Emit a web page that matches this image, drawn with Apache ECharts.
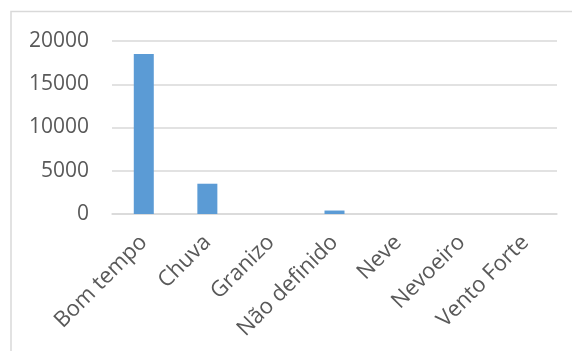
<!DOCTYPE html>
<html>
<head>
<meta charset="utf-8">
<script src="https://cdn.jsdelivr.net/npm/echarts@6/dist/echarts.min.js"></script>
<style>
  html, body { margin: 0; padding: 0; background: #ffffff; }
  #chart { width: 572px; height: 351px; }
</style>
</head>
<body>
<div id="chart"></div>
<script>
// Weather condition counts
const categories = ['Bom tempo', 'Chuva', 'Granizo', 'Não definido', 'Neve', 'Nevoeiro', 'Vento Forte'];
const counts = [18500, 3500, 0, 400, 0, 0, 0];
const yTicks = { min: 0, max: 20000, interval: 5000 };

const chart = echarts.init(document.getElementById('chart'), null, { renderer: 'canvas' });

chart.setOption({
  animation: false,
  backgroundColor: '#ffffff',
  textStyle: { fontFamily: 'Open Sans' },
  graphic: [{
    type: 'rect',
    silent: true,
    shape: { x: 11, y: 11.5, width: 700, height: 500 },
    style: { fill: 'none', stroke: '#d9d9d9', lineWidth: 1.5 }
  }],
  grid: { left: 112, right: 15, top: 41, bottom: 137 },
  xAxis: {
    type: 'category',
    data: categories,
    axisLine: { show: true, lineStyle: { color: '#d9d9d9', width: 1.5 } },
    axisTick: { show: false },
    axisLabel: {
      rotate: 45,
      interval: 0,
      margin: 25,
      color: '#595959',
      fontSize: 22,
      fontFamily: 'Open Sans'
    }
  },
  yAxis: {
    type: 'value',
    min: yTicks.min,
    max: yTicks.max,
    interval: yTicks.interval,
    axisLine: { show: false },
    axisTick: { show: false },
    splitLine: { lineStyle: { color: '#d9d9d9', width: 1.5 } },
    axisLabel: {
      margin: 23,
      color: '#595959',
      fontSize: 21,
      fontFamily: 'Open Sans',
      formatter: (v) => String(v)
    }
  },
  series: [{
    type: 'bar',
    data: counts,
    barWidth: 20,
    itemStyle: { color: '#5b9bd5' }
  }]
});
</script>
</body>
</html>
